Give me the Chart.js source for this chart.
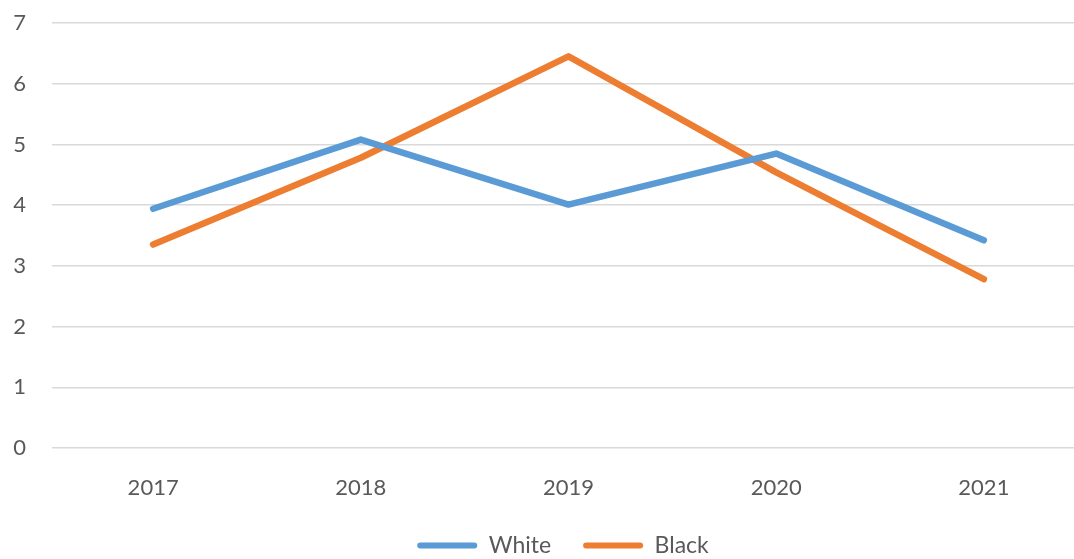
<!DOCTYPE html>
<html>
<head>
<meta charset="utf-8">
<script src="https://cdn.jsdelivr.net/npm/chart.js@4"></script>
<style>
  html, body { margin: 0; padding: 0; background: #fff; }
  #wrap { width: 1074px; height: 559px; }
</style>
</head>
<body>
<div id="wrap"><canvas id="myChart"></canvas></div>
<script>
const years = [2017, 2018, 2019, 2020, 2021];
const whiteValues = [3.94, 5.08, 4.01, 4.85, 3.42];
const blackValues = [3.35, 4.78, 6.45, 4.54, 2.78];
const yTicks = [0, 1, 2, 3, 4, 5, 6, 7];

const toPoints = vals => vals.map((v, i) => ({ x: years[i], y: v }));

const ctx = document.getElementById('myChart').getContext('2d');

const data = {
  datasets: [
    {
      label: 'White',
      data: toPoints(whiteValues),
      borderColor: '#5b9bd5',
      backgroundColor: '#5b9bd5',
      borderWidth: 6.5,
      borderCapStyle: 'round',
      borderJoinStyle: 'round',
      pointRadius: 0,
      tension: 0
    },
    {
      label: 'Black',
      data: toPoints(blackValues),
      borderColor: '#ed7d31',
      backgroundColor: '#ed7d31',
      borderWidth: 6.5,
      borderCapStyle: 'round',
      borderJoinStyle: 'round',
      pointRadius: 0,
      tension: 0
    }
  ]
};

const config = {
  type: 'line',
  data: data,
  options: {
    responsive: true,
    maintainAspectRatio: false,
    animation: false,
    layout: {
      // legend sits low, close to the bottom edge
      padding: { top: 23, left: 0, right: 0, bottom: -8 }
    },
    plugins: {
      legend: {
        position: 'bottom',
        labels: {
          boxWidth: 60,
          boxHeight: 6,
          padding: 32,
          color: '#595959',
          font: { family: 'Lato', size: 23 },
          generateLabels(chart) {
            return chart.data.datasets.map((ds, i) => ({
              text: ds.label,
              fillStyle: ds.borderColor,
              strokeStyle: ds.borderColor,
              lineWidth: 0,
              borderRadius: 3,
              fontColor: '#595959',
              datasetIndex: i
            }));
          }
        }
      },
      tooltip: { enabled: false }
    },
    scales: {
      x: {
        type: 'linear',
        min: 2016.513,
        max: 2021.434,
        afterBuildTicks(axis) {
          axis.ticks = years.map(v => ({ value: v }));
        },
        afterFit(axis) {
          axis.paddingLeft = 0;
          axis.paddingRight = 0;
          axis.height = 54;
        },
        grid: { display: false },
        border: { display: false },
        ticks: {
          padding: 19,
          color: '#595959',
          font: { family: 'Lato', size: 22 },
          callback: v => String(v)
        }
      },
      y: {
        min: 0,
        max: 7,
        afterBuildTicks(axis) {
          axis.ticks = yTicks.map(v => ({ value: v }));
        },
        afterFit(axis) {
          axis.width = 52;
          axis.paddingTop = 0;
          axis.paddingBottom = 0;
        },
        grid: { color: '#d9d9d9', lineWidth: 1.5, drawTicks: false },
        border: { display: false },
        ticks: {
          padding: 26,
          color: '#595959',
          font: { family: 'Lato', size: 22 }
        }
      }
    }
  },
  plugins: [{
    // center the legend under the plot area rather than the whole canvas
    id: 'legendUnderPlot',
    afterLayout(chart) {
      const {legend, chartArea} = chart;
      const shift = (chartArea.left + chartArea.right) / 2 - (legend.left + legend.right) / 2;
      legend.left += shift;
      legend.right += shift;
    }
  }]
};

const myChart = new Chart(ctx, config);
</script>
</body>
</html>
